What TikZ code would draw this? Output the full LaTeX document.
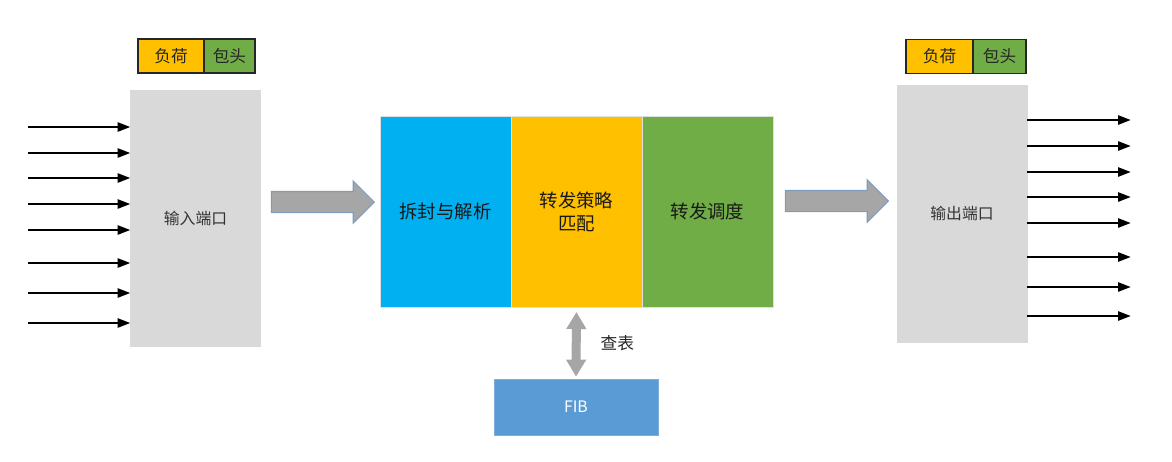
\documentclass[tikz,border=0pt]{standalone}
\usepackage{fontspec}
\setmainfont{Noto Sans CJK SC}
\usetikzlibrary{positioning,arrows.meta,shapes.arrows}
\definecolor{portgray}{HTML}{D9D9D9}
\definecolor{parseblue}{HTML}{00B0F0}
\definecolor{matchorange}{HTML}{FFC000}
\definecolor{schedgreen}{HTML}{70AD47}
\definecolor{fibblue}{HTML}{5B9BD5}
\definecolor{arrowgray}{HTML}{A6A6A6}
\definecolor{arrowedge}{HTML}{7C9CC2}
\tikzset{
	port/.style={draw=black!15,fill=portgray,minimum width=2.6cm,minimum height=5.12cm,inner sep=0pt,outer sep=0pt,font=\fontsize{9pt}{11pt}\selectfont,text=black!80},
	stage/.style={draw=black!12,minimum width=2.62cm,minimum height=3.82cm,inner sep=0pt,outer sep=0pt,align=center,font=\fontsize{10.5pt}{13pt}\selectfont,text=black!90},
	field/.style={draw=black!85,line width=0.6pt,minimum height=0.68cm,inner sep=0pt,outer sep=0pt,font=\fontsize{9.5pt}{11pt}\selectfont,text=black!85},
	linkarrow/.style={line width=1.5pt,-{Triangle[length=0.26cm,width=0.18cm]}},
	bigarrow/.style={single arrow,draw=arrowedge,fill=arrowgray,line width=0.6pt,inner sep=0.2cm,single arrow head extend=0.21cm,single arrow tip angle=90,minimum height=2.06cm},
	lookup/.style={arrowgray,line width=0.18cm,{Triangle[width=0.38cm,length=0.34cm]}-{Triangle[width=0.38cm,length=0.34cm]}}
}
\begin{document}
\begin{tikzpicture}[x=0.02cm,y=-0.02cm]
	\useasboundingbox (0,0) rectangle (1172,461);
	
	\node[port] (inport) at (195.5,218) {输入端口};
	\node[port,minimum height=5.14cm] (outport) at (962,213.5) {输出端口};
	
	\node[field,fill=matchorange,minimum width=1.32cm] (load1) at (171,56) {负荷};
	\node[field,fill=schedgreen,minimum width=1.02cm,right=0pt of load1] (head1) {包头};
	\node[field,fill=matchorange,minimum width=1.34cm] (load2) at (939.5,56.5) {负荷};
	\node[field,fill=schedgreen,minimum width=1.06cm,right=0pt of load2] (head2) {包头};
	
	\node[stage,fill=parseblue] (parse) at (445.5,211.5) {拆封与解析};
	\node[stage,fill=matchorange,right=0pt of parse] (match) {转发策略\\匹配};
	\node[stage,fill=schedgreen,right=0pt of match] (sched) {转发调度};
	
	\node[draw=fibblue!80!white,fill=fibblue,minimum width=3.28cm,minimum height=1.12cm,text=white,font=\fontsize{9pt}{11pt}\selectfont] (fib) at (576,407) {FIB};
	
	\node[bigarrow] (toparse) at (317.5,202) {};
	\node[bigarrow] (toout) at (831.5,201) {};
	
	\draw[lookup,shorten <=0.1cm,shorten >=0.04cm] (match.south) -- (fib.north) node[midway,right=0.28cm,font=\fontsize{9.5pt}{11pt}\selectfont,text=black!85]{查表};
	
	\coordinate (in1) at (28,127);
	\coordinate (in2) at (28,153);
	\coordinate (in3) at (28,178);
	\coordinate (in4) at (28,204);
	\coordinate (in5) at (28,230);
	\coordinate (in6) at (28,263);
	\coordinate (in7) at (28,293);
	\coordinate (in8) at (28,323);
	
	\draw[linkarrow] (in1) -- (in1 -| inport.west);
	\draw[linkarrow] (in2) -- (in2 -| inport.west);
	\draw[linkarrow] (in3) -- (in3 -| inport.west);
	\draw[linkarrow] (in4) -- (in4 -| inport.west);
	\draw[linkarrow] (in5) -- (in5 -| inport.west);
	\draw[linkarrow] (in6) -- (in6 -| inport.west);
	\draw[linkarrow] (in7) -- (in7 -| inport.west);
	\draw[linkarrow] (in8) -- (in8 -| inport.west);
	
	\coordinate (out1) at (1131,120);
	\coordinate (out2) at (1131,146);
	\coordinate (out3) at (1131,172);
	\coordinate (out4) at (1131,197);
	\coordinate (out5) at (1131,223);
	\coordinate (out6) at (1131,257);
	\coordinate (out7) at (1131,287);
	\coordinate (out8) at (1131,316);
	
	\draw[linkarrow] (outport.east |- out1) -- (out1);
	\draw[linkarrow] (outport.east |- out2) -- (out2);
	\draw[linkarrow] (outport.east |- out3) -- (out3);
	\draw[linkarrow] (outport.east |- out4) -- (out4);
	\draw[linkarrow] (outport.east |- out5) -- (out5);
	\draw[linkarrow] (outport.east |- out6) -- (out6);
	\draw[linkarrow] (outport.east |- out7) -- (out7);
	\draw[linkarrow] (outport.east |- out8) -- (out8);
\end{tikzpicture}
\end{document}
